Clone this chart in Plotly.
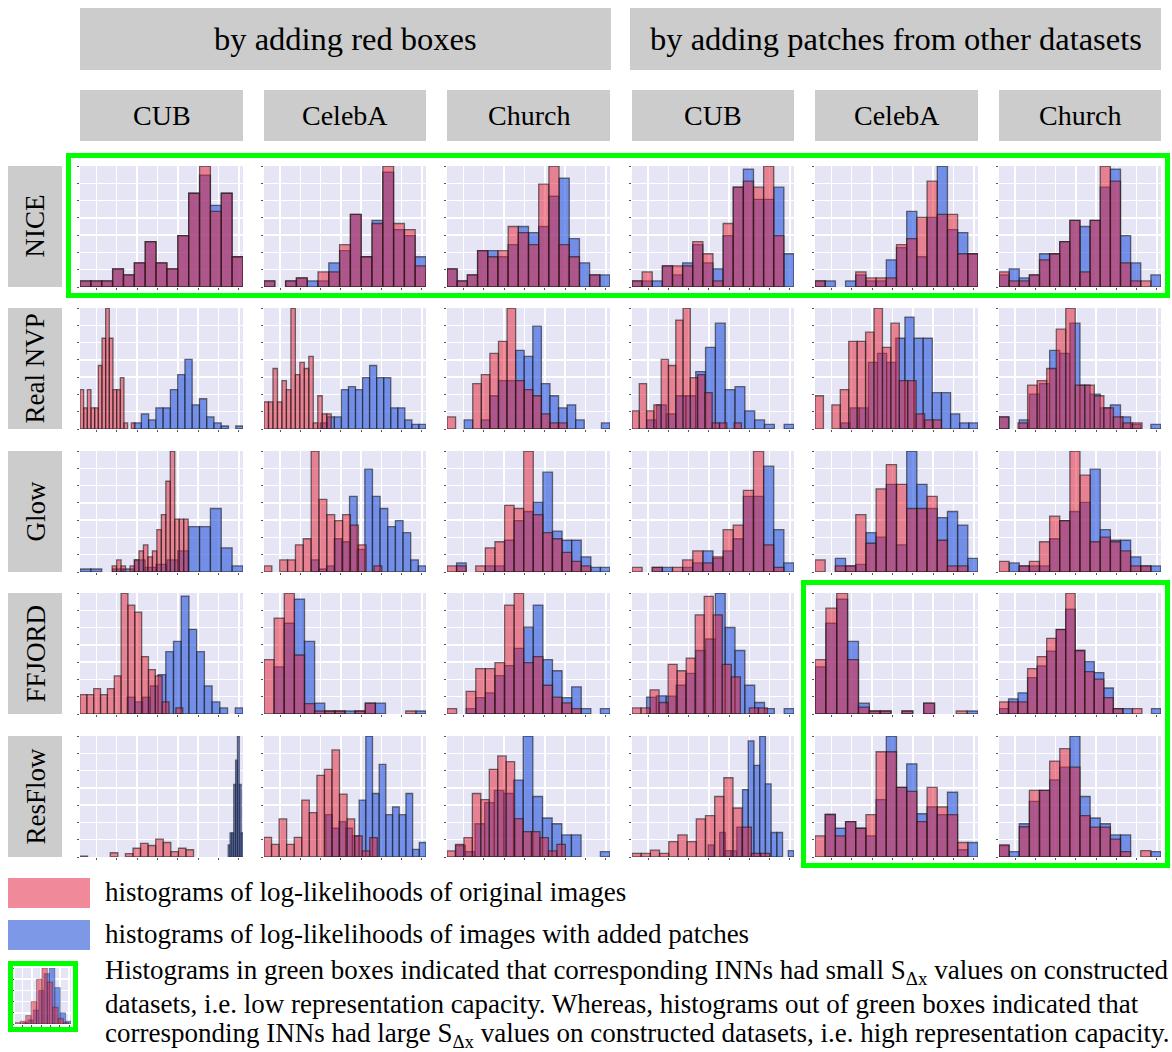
import plotly.graph_objects as go

# ---------------- text ----------------
MODELS = ["NICE", "Real NVP", "Glow", "FFJORD", "ResFlow"]
MODEL_KEYS = ["NICE", "RNVP", "GLOW", "FFJORD", "RESFLOW"]
GROUPS = ["by adding red boxes", "by adding patches from other datasets"]
GROUP_KEYS = ["BOX", "PATCH"]
DATASETS = ["CUB", "CelebA", "Church"]
DATASET_KEYS = ["CUB", "CELEBA", "CHURCH"]
LEGEND_ORIG = "histograms of log-likelihoods of original images"
LEGEND_ADDED = "histograms of log-likelihoods of images with added patches"
NOTE_LINES = [
    "Histograms in green boxes indicated that corresponding INNs had small S<sub>\u0394x</sub> values on constructed",
    "datasets, i.e. low representation capacity. Whereas, histograms out of green boxes indicated that",
    "corresponding INNs had large S<sub>\u0394x</sub> values on constructed datasets, i.e. high representation capacity.",
]

# ---------------- histogram data ----------------
# counts per bin; *_BINS = (first bin edge, bin width) on the log-likelihood axis (arbitrary units)
NICE_BOX_CUB_ORIG = [2, 2, 2, 6, 4, 8, 15, 8, 6, 17, 31, 40, 25, 31, 10]
NICE_BOX_CUB_ORIG_BINS = (0, 31)
NICE_BOX_CUB_ADDED = [2, 2, 2, 6, 4, 8, 15, 8, 6, 17, 31, 37, 27, 31, 10]
NICE_BOX_CUB_ADDED_BINS = (0, 31)
NICE_BOX_CELEBA_ORIG = [2, 0, 2, 3, 0, 5, 5, 14, 24, 10, 21, 40, 21, 19, 7]
NICE_BOX_CELEBA_ORIG_BINS = (0, 31)
NICE_BOX_CELEBA_ADDED = [2, 0, 2, 3, 2, 2, 8, 12, 24, 10, 22, 38, 19, 17, 10]
NICE_BOX_CELEBA_ADDED_BINS = (0, 31)
NICE_BOX_CHURCH_ORIG = [6, 2, 4, 12, 10, 12, 20, 18, 14, 34, 40, 14, 10, 0, 4, 0]
NICE_BOX_CHURCH_ORIG_BINS = (0, 29.2)
NICE_BOX_CHURCH_ADDED = [6, 2, 4, 12, 12, 10, 14, 20, 18, 20, 30, 36, 16, 8, 4, 4]
NICE_BOX_CHURCH_ADDED_BINS = (0, 29.2)
NICE_PATCH_CUB_ORIG = [2, 5, 0, 7, 7, 7, 15, 11, 2, 21, 33, 35, 33, 40, 17, 0]
NICE_PATCH_CUB_ORIG_BINS = (0, 29.2)
NICE_PATCH_CUB_ADDED = [2, 2, 2, 7, 4, 8, 14, 8, 6, 17, 33, 39, 29, 29, 33, 11]
NICE_PATCH_CUB_ADDED_BINS = (0, 29.2)
NICE_PATCH_CELEBA_ORIG = [2, 0, 0, 0, 5, 3, 3, 3, 14, 16, 23, 35, 24, 24, 11, 11]
NICE_PATCH_CELEBA_ORIG_BINS = (0, 29.2)
NICE_PATCH_CELEBA_ADDED = [2, 2, 0, 2, 4, 2, 2, 9, 13, 25, 10, 23, 40, 19, 18, 11]
NICE_PATCH_CELEBA_ADDED_BINS = (0, 29.2)
NICE_PATCH_CHURCH_ORIG = [5, 2, 2, 4, 9, 11, 15, 22, 5, 22, 40, 35, 8, 2, 2, 0]
NICE_PATCH_CHURCH_ORIG_BINS = (0, 29.2)
NICE_PATCH_CHURCH_ADDED = [4, 6, 3, 4, 11, 11, 15, 22, 20, 22, 33, 39, 17, 8, 0, 4]
NICE_PATCH_CHURCH_ADDED_BINS = (0, 29.2)

RNVP_BOX_CUB_ORIG = [13, 7, 13, 7, 7, 21, 30, 40, 30, 13, 13, 17, 2, 0, 2]
RNVP_BOX_CUB_ORIG_BINS = (0, 10.5)
RNVP_BOX_CUB_ADDED = [2, 5, 3, 7, 7, 13, 18, 23, 8, 10, 4, 2, 1, 0, 1]
RNVP_BOX_CUB_ADDED_BINS = (155, 20.8)
RNVP_BOX_CELEBA_ORIG = [9, 9, 20, 9, 16, 13, 40, 18, 22, 20, 24, 2, 11, 5, 5]
RNVP_BOX_CELEBA_ORIG_BINS = (0, 12.9)
RNVP_BOX_CELEBA_ADDED = [2, 4, 4, 13, 14, 13, 17, 21, 17, 17, 7, 7, 3, 1.5, 1.5]
RNVP_BOX_CELEBA_ADDED_BINS = (162, 20.3)
RNVP_BOX_CHURCH_ORIG = [4, 0, 0, 15, 18, 25, 29, 40, 16, 13, 11, 5, 2, 2, 0, 0, 0, 0, 0]
RNVP_BOX_CHURCH_ORIG_BINS = (0, 24.6)
RNVP_BOX_CHURCH_ADDED = [0, 0, 3, 0, 3, 11, 16, 16, 26, 24, 34, 15, 11, 7, 8, 3, 0, 0, 2]
RNVP_BOX_CHURCH_ADDED_BINS = (0, 24.6)
RNVP_PATCH_CUB_ORIG = [6, 15, 6, 8, 23, 21, 36, 40, 17, 18, 12, 2, 2, 0, 2]
RNVP_PATCH_CUB_ORIG_BINS = (0, 21)
RNVP_PATCH_CUB_ADDED = [3, 8, 5, 11, 11, 19, 27, 35, 13, 14, 6, 3, 1.5, 0, 1.5]
RNVP_PATCH_CUB_ADDED_BINS = (42, 28.3)
RNVP_PATCH_CELEBA_ORIG = [11, 0, 8, 13, 29, 29, 32, 40, 27, 35, 16, 16, 5, 3, 3]
RNVP_PATCH_CELEBA_ORIG_BINS = (0, 24)
RNVP_PATCH_CELEBA_ADDED = [2, 7, 7, 22, 25, 22, 30, 37, 30, 30, 12, 12, 5, 2, 2]
RNVP_PATCH_CELEBA_ADDED_BINS = (74, 26)
RNVP_PATCH_CHURCH_ORIG = [4, 0, 2, 14.5, 16, 20, 33, 40, 14.5, 14.5, 11, 7, 4, 2, 2]
RNVP_PATCH_CHURCH_ORIG_BINS = (0, 27.5)
RNVP_PATCH_CHURCH_ADDED = [4, 0, 3, 11.5, 15, 26, 25, 35, 14.5, 11.5, 7, 8, 4, 1.5, 0, 1.5]
RNVP_PATCH_CHURCH_ADDED_BINS = (0, 29.2)

GLOW_BOX_CUB_ORIG = [2, 4, 2, 0, 2, 4, 7, 9, 5, 7, 14, 19, 30, 40, 17.5, 17.5, 17.5]
GLOW_BOX_CUB_ORIG_BINS = (92, 12.8)
GLOW_BOX_CUB_ADDED = [1, 1, 0, 1, 1, 4, 1.5, 2.5, 4, 7, 15, 15, 21, 8, 2]
GLOW_BOX_CUB_ADDED_BINS = (0, 31.1)
GLOW_BOX_CELEBA_ORIG = [2, 0, 4, 4, 9, 11, 40, 24, 19, 17, 19, 15.5, 9, 0, 2]
GLOW_BOX_CELEBA_ORIG_BINS = (0, 22.6)
GLOW_BOX_CELEBA_ADDED = [4, 1, 2, 11, 10, 25, 7.5, 34, 25, 21, 15, 17, 13, 4, 2]
GLOW_BOX_CELEBA_ADDED_BINS = (136, 22)
GLOW_BOX_CHURCH_ORIG = [2, 2, 0, 2, 8, 10, 22, 21, 40, 19, 13, 11, 6.5, 3.5, 2, 0, 0]
GLOW_BOX_CHURCH_ORIG_BINS = (0, 27.5)
GLOW_BOX_CHURCH_ADDED = [0, 3, 0, 0, 2, 2, 10.5, 17, 20, 23, 33, 13.5, 10.5, 10.5, 5, 1.5, 1.5]
GLOW_BOX_CHURCH_ADDED_BINS = (0, 27.5)
GLOW_PATCH_CUB_ORIG = [1.5, 0, 1.5, 0, 1.5, 4, 7, 3, 5, 14, 15.5, 27, 40, 9, 1.5, 0]
GLOW_PATCH_CUB_ORIG_BINS = (0, 29.2)
GLOW_PATCH_CUB_ADDED = [0, 0, 1.5, 1.5, 0, 1.5, 3, 7, 4.5, 7, 11, 25, 25, 35, 14, 3]
GLOW_PATCH_CUB_ADDED_BINS = (0, 29.2)
GLOW_PATCH_CELEBA_ORIG = [4, 0, 2, 2, 19, 9.5, 27.5, 35.5, 29, 21, 21, 25, 10.5, 2, 2, 0]
GLOW_PATCH_CELEBA_ORIG_BINS = (0, 29.2)
GLOW_PATCH_CELEBA_ADDED = [0, 0, 4.5, 2, 2.5, 13, 11.5, 29, 9, 40, 29, 21, 18, 20, 15.5, 4.5]
GLOW_PATCH_CELEBA_ADDED_BINS = (0, 29.2)
GLOW_PATCH_CHURCH_ORIG = [3.5, 0, 2, 3.5, 10, 18.5, 17, 40, 32, 10, 11.5, 10, 7, 2, 2, 0]
GLOW_PATCH_CHURCH_ORIG_BINS = (0, 29.2)
GLOW_PATCH_CHURCH_ADDED = [0, 3, 2, 2, 2, 11, 17, 20, 23, 34, 14, 10.5, 10.5, 5, 2, 2]
GLOW_PATCH_CHURCH_ADDED_BINS = (0, 29.2)

FFJORD_BOX_CUB_ORIG = [6.4, 6.4, 8.4, 6.4, 8.4, 12.6, 40, 36, 33.7, 19, 14.7, 12.6, 4, 0, 2]
FFJORD_BOX_CUB_ORIG_BINS = (0, 19.6)
FFJORD_BOX_CUB_ADDED = [5.6, 4, 5.6, 9.3, 13, 20.6, 24, 39, 28, 20.6, 9.3, 4, 2, 0, 2]
FFJORD_BOX_CUB_ADDED_BINS = (135, 22.1)
FFJORD_BOX_CELEBA_ORIG = [18, 31.7, 40, 19.5, 3.4, 1, 1, 1, 0, 1, 3.6, 0, 0, 0, 1, 0]
FFJORD_BOX_CELEBA_ORIG_BINS = (0, 29.2)
FFJORD_BOX_CELEBA_ADDED = [0, 15.6, 30, 38, 24, 3.6, 1, 1, 1, 1, 3.6, 3.6, 0, 0, 0, 1]
FFJORD_BOX_CELEBA_ADDED_BINS = (0, 29.2)
FFJORD_BOX_CHURCH_ORIG = [1.8, 0, 7.5, 15, 15, 17, 36, 40, 17, 19, 9.5, 5.6, 3.7, 1.8, 0, 0, 0]
FFJORD_BOX_CHURCH_ORIG_BINS = (0, 27.5)
FFJORD_BOX_CHURCH_ADDED = [0, 0, 1.8, 5.4, 7, 12.7, 16, 21.7, 28.7, 36, 18, 14.3, 5.4, 9, 1.8, 0, 1.8]
FFJORD_BOX_CHURCH_ADDED_BINS = (0, 27.5)
FFJORD_PATCH_CUB_ORIG = [2, 2, 8, 3.8, 16.4, 14.3, 18.5, 32.8, 38.9, 32.8, 16.4, 12.3, 0, 2, 2]
FFJORD_PATCH_CUB_ORIG_BINS = (0, 26)
FFJORD_PATCH_CUB_ADDED = [5.6, 6, 5.9, 9.5, 13.4, 21, 24.8, 40, 28.6, 21, 9.5, 3.8, 1.8, 0, 1.8]
FFJORD_PATCH_CUB_ADDED_BINS = (42, 28.3)
FFJORD_PATCH_CELEBA_ORIG = [18, 35, 40, 18, 2.3, 1, 1, 0, 1, 0, 3.6, 0, 0, 1, 0]
FFJORD_PATCH_CELEBA_ORIG_BINS = (0, 31.1)
FFJORD_PATCH_CELEBA_ADDED = [15.6, 30, 38, 24, 3.6, 1, 1, 0, 1, 0, 3.6, 0, 0, 0, 1]
FFJORD_PATCH_CELEBA_ADDED_BINS = (0, 31.1)
FFJORD_PATCH_CHURCH_ORIG = [4, 4, 4, 15, 19, 25, 28, 40, 21, 14, 11.5, 5.4, 1.8, 0, 1.8, 0, 0]
FFJORD_PATCH_CHURCH_ORIG_BINS = (0, 27.5)
FFJORD_PATCH_CHURCH_ADDED = [1.8, 5, 7, 12, 15.9, 20.8, 27.9, 34.7, 21, 17.3, 13.7, 8.6, 1.8, 1.8, 0, 0, 1.8]
FFJORD_PATCH_CHURCH_ADDED_BINS = (0, 27.5)

RESFLOW_BOX_CUB_ORIG = [0.3, 0, 0, 0, 1.4, 0, 1.1, 2.9, 4.5, 3.8, 5.9, 4.8, 1.8, 2.9, 2.4]
RESFLOW_BOX_CUB_ORIG_BINS = (0, 21.3)
RESFLOW_BOX_CUB_ADDED = [4, 8, 8, 24, 32, 40, 24, 8]
RESFLOW_BOX_CUB_ADDED_BINS = (417, 5.2)
RESFLOW_BOX_CELEBA_ORIG = [6.5, 4.2, 12.6, 4.2, 6.5, 18.8, 14.7, 27, 29, 35.4, 20.8, 12.6, 7, 2, 6.4]
RESFLOW_BOX_CELEBA_ORIG_BINS = (0, 21.8)
RESFLOW_BOX_CELEBA_ADDED = [14, 9.5, 11.7, 9.5, 7, 18.8, 40, 21, 30.6, 14, 16.6, 14, 21, 2.5, 4.8]
RESFLOW_BOX_CELEBA_ADDED_BINS = (178, 19.3)
RESFLOW_BOX_CHURCH_ORIG = [2, 4.2, 6.4, 21, 19, 29, 33.4, 31.5, 12.7, 8.4, 8.4, 6.4, 2, 4.2]
RESFLOW_BOX_CHURCH_ORIG_BINS = (0, 24.2)
RESFLOW_BOX_CHURCH_ADDED = [3.8, 1.8, 11, 18, 22, 21, 25.4, 40, 20, 12.9, 11, 7.3, 7.3, 0, 0, 1.8]
RESFLOW_BOX_CHURCH_ADDED_BINS = (25, 27.6)
RESFLOW_PATCH_CUB_ORIG = [1.2, 1.2, 2.3, 1.2, 5.1, 7.3, 5.1, 12.6, 13.7, 20, 26.2, 16.2, 9.9, 1.2, 1.2]
RESFLOW_PATCH_CUB_ORIG_BINS = (0, 26.5)
RESFLOW_PATCH_CUB_ADDED = [4, 0, 8.1, 2.1, 2, 9.9, 22.3, 38.4, 30.3, 40, 24.2, 8.1, 8.1, 0, 2.1]
RESFLOW_PATCH_CUB_ADDED_BINS = (220, 16.5)
RESFLOW_PATCH_CELEBA_ORIG = [7, 14, 7, 11.7, 9.5, 14, 34.8, 34.8, 23, 21.7, 11.7, 23, 16.6, 14, 4.8, 0]
RESFLOW_PATCH_CELEBA_ORIG_BINS = (0, 29.2)
RESFLOW_PATCH_CELEBA_ADDED = [0, 14.2, 9.5, 11.7, 9.5, 7, 19, 40, 23, 30.8, 14.3, 16.6, 14, 21.4, 2.4, 4.8]
RESFLOW_PATCH_CELEBA_ADDED_BINS = (0, 29.2)
RESFLOW_PATCH_CHURCH_ORIG = [4, 0, 10, 22, 22, 31.7, 35.8, 29.7, 13.7, 9.9, 9.9, 5.9, 1.8, 0, 2.1, 0]
RESFLOW_PATCH_CHURCH_ORIG_BINS = (0, 29.2)
RESFLOW_PATCH_CHURCH_ADDED = [3.8, 1.8, 11, 18.4, 22, 25.5, 29.7, 40, 20, 12.9, 11, 7.3, 7.3, 0, 0, 1.8]
RESFLOW_PATCH_CHURCH_ADDED_BINS = (0, 29.2)

# thumbnail histogram in the legend
ICON_ORIG = [1, 2, 6, 16, 32, 40, 30, 12, 4, 1]
ICON_ORIG_BINS = (0, 1)
ICON_ADDED = [0, 1, 3, 10, 24, 36, 40, 26, 8, 2]
ICON_ADDED_BINS = (0.4, 1)

# green boxes: (first row, last row, first col, last col)
GREEN_BOXES = [(0, 0, 0, 5), (3, 4, 4, 5)]

# ---------------- style ----------------
W, H = 1172, 1052
FONT = "Liberation Serif, Times New Roman, serif"
RED = "rgba(230,30,50,0.5)"
BLUE = "rgba(65,105,225,0.7)"
EDGE = "rgba(25,25,25,0.6)"
BG = "#E5E5F5"
HEADER = "#CCCCCC"
GREEN = "#00FF00"

COL_PX = [(80, 243), (264, 426), (447, 610), (632, 794), (815, 978), (999, 1161)]
ROW_PX = [(166, 287), (308, 429), (451, 572), (593, 714), (736, 857)]


def px(x):
    return x / W


def py(y):
    return 1 - y / H


fig = go.Figure()
layout = dict(
    width=W, height=H, autosize=False,
    margin=dict(l=0, r=0, t=0, b=0),
    paper_bgcolor="white", plot_bgcolor=BG,
    barmode="overlay", bargap=0, showlegend=False,
    shapes=[], annotations=[],
)


def add_hist(n, orig, orig_bins, added, added_bins, xdom, ydom, edge_w=1.3, grid_n=8):
    ax = "" if n == 1 else str(n)
    lo = hi = None
    ymax = 0
    for counts, (start, width), color in ((added, added_bins, BLUE), (orig, orig_bins, RED)):
        xs, ys = [], []
        for i, c in enumerate(counts):
            if c > 0:
                xs.append(start + width * (i + 0.5))
                ys.append(c)
        end = start + width * len(counts)
        lo = start if lo is None else min(lo, start)
        hi = end if hi is None else max(hi, end)
        ymax = max(ymax, max(counts))
        fig.add_trace(go.Bar(
            x=xs, y=ys, width=width, xaxis="x" + ax, yaxis="y" + ax,
            marker=dict(color=color, line=dict(color=EDGE, width=edge_w)),
            hoverinfo="skip",
        ))
    span = hi - lo
    xd = span / grid_n
    yd = ymax / (grid_n - 1)
    common = dict(showticklabels=False, ticks="outside", ticklen=2, tickwidth=1,
                  tickcolor="#555", gridcolor="white", gridwidth=1.5,
                  zeroline=False, showline=False, fixedrange=True)
    layout["xaxis" + ax] = dict(domain=[px(xdom[0]), px(xdom[1])], anchor="y" + ax,
                                range=[lo, hi], tick0=lo + 0.8 * xd, dtick=xd, **common)
    layout["yaxis" + ax] = dict(domain=[py(ydom[1]), py(ydom[0])], anchor="x" + ax,
                                range=[0, ymax], tick0=0, dtick=yd, **common)


n = 0
for r, mk in enumerate(MODEL_KEYS):
    for c in range(6):
        n += 1
        key = f"{mk}_{GROUP_KEYS[c // 3]}_{DATASET_KEYS[c % 3]}"
        g = globals()
        add_hist(n, g[key + "_ORIG"], g[key + "_ORIG_BINS"],
                 g[key + "_ADDED"], g[key + "_ADDED_BINS"],
                 COL_PX[c], ROW_PX[r])

# legend thumbnail
n += 1
add_hist(n, ICON_ORIG, ICON_ORIG_BINS, ICON_ADDED, ICON_ADDED_BINS,
         (15, 71), (968, 1024), edge_w=0.6, grid_n=6)


def rect(x0, y0, x1, y1, fill=None, line=None, lw=0):
    s = dict(type="rect", xref="paper", yref="paper",
             x0=px(x0), x1=px(x1), y0=py(y1), y1=py(y0), layer="above" if line else "below")
    s["fillcolor"] = fill if fill else "rgba(0,0,0,0)"
    s["line"] = dict(color=line if line else "rgba(0,0,0,0)", width=lw)
    return s


def text(x, y, t, size, anchor="center", angle=0):
    return dict(xref="paper", yref="paper", x=px(x), y=py(y), text=t, showarrow=False,
                xanchor=anchor, yanchor="middle", textangle=angle,
                font=dict(family=FONT, size=size, color="black"))


# group headers
for gi, (x0, x1) in enumerate([(80, 611), (630, 1161)]):
    layout["shapes"].append(rect(x0, 8, x1, 70, fill=HEADER))
    layout["annotations"].append(text((x0 + x1) / 2, 39, GROUPS[gi], 32.5))
# dataset headers
for c in range(6):
    x0, x1 = COL_PX[c]
    layout["shapes"].append(rect(x0, 90, x1, 141, fill=HEADER))
    layout["annotations"].append(text((x0 + x1) / 2, 116, DATASETS[c % 3], 28))
# model labels
for r in range(5):
    y0, y1 = ROW_PX[r]
    layout["shapes"].append(rect(8, y0, 62, y1, fill=HEADER))
    layout["annotations"].append(text(35, (y0 + y1) / 2, MODELS[r], 27, angle=-90))

# green boxes
for (r0, r1, c0, c1) in GREEN_BOXES:
    x0 = COL_PX[c0][0] - 11.5
    x1 = 1167.5
    y0 = ROW_PX[r0][0] - 10.5
    y1 = ROW_PX[r1][1] + 8.5
    layout["shapes"].append(rect(x0, y0, x1, y1, line=GREEN, lw=5))

# legend
layout["shapes"].append(rect(8, 878, 90, 908, fill="#F0899A"))
layout["shapes"].append(rect(8, 920, 90, 950, fill="#7C98E6"))
layout["annotations"].append(text(103, 892, LEGEND_ORIG, 27, anchor="left"))
layout["annotations"].append(text(103, 934, LEGEND_ADDED, 27, anchor="left"))
layout["shapes"].append(rect(10.5, 963.5, 75.5, 1029.5, line=GREEN, lw=5))
for i, line in enumerate(NOTE_LINES):
    layout["annotations"].append(text(103, 972 + 31.5 * i, line, 27, anchor="left"))

fig.update_layout(**layout)
fig.write_html(
    "out.html",
    config={"displayModeBar": False, "staticPlot": True},
    post_script="document.body.style.margin='0';document.body.style.overflow='hidden';",
)
